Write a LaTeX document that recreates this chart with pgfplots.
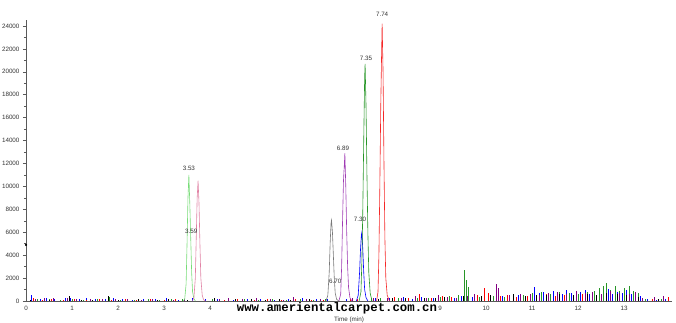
\documentclass[border=0pt]{standalone}
\usepackage{fontspec}
\setmainfont{Liberation Sans}
\newfontfamily\wmfont{Liberation Mono}
\usepackage{pgfplots}
\pgfplotsset{compat=1.18}
\definecolor{lgreen}{RGB}{120,220,120}
\definecolor{dgreen}{RGB}{40,150,40}
\definecolor{lpink}{RGB}{225,130,165}
\definecolor{lgray}{RGB}{120,120,120}
\definecolor{mpurple}{RGB}{160,60,180}
\definecolor{npurple}{RGB}{130,0,130}
\definecolor{mred}{RGB}{245,40,40}
\begin{document}
\begin{tikzpicture}
\useasboundingbox (0,0) rectangle (676bp,323bp);
\begin{axis}[
  at={(26bp,22bp)}, anchor=origin,
  scale only axis, width=646bp, height=281bp,
  xmin=0, xmax=14.04, ymin=0, ymax=24520,
  axis x line*=bottom, axis y line*=left,
  axis line style={draw=black!65, line width=0.6bp},
  xtick={0,1,2,3,4,9,10,11,12,13},
  xticklabels={0,1,2,3,4,9,10,11,12,13},
  ytick={0,2000,...,24000}, minor y tick num=1,
  tick align=outside,
  major tick length=3bp, minor tick length=2bp,
  x tick style={draw=none},
  y tick style={draw=black!65, line width=0.5bp},
  tick label style={font=\fontsize{6.3}{7}\selectfont, text=black!80},
  /pgf/number format/assume math mode=true,
  scaled y ticks=false,
  yticklabel style={/pgf/number format/1000 sep={}},
  xlabel={Time (min)},
  xlabel style={font=\fontsize{6.3}{7}\selectfont, text=black!80, yshift=1bp},
  xticklabel style={yshift=1bp},
  clip=false,
]
% noise spikes
\addplot[ycomb, no marks, blue, line width=0.5bp] coordinates {
(0.12,550)(0.3,180)(0.45,260)(0.62,150)(0.85,220)(0.97,300)(1.15,140)(1.32,260)(1.5,190)(1.72,150)(1.9,230)(2.1,170)(2.3,120)(2.55,200)(2.8,150)(3.05,240)(3.3,130)(3.62,260)(3.9,140)(4.15,180)(4.5,120)(4.8,150)(5.1,200)(5.4,130)(5.7,170)(6.0,240)(6.3,150)(6.55,200)(6.95,180)(7.6,220)(7.9,260)(8.2,340)(8.4,200)(8.6,350)(8.85,250)(9.1,360)(9.3,280)(9.45,420)(9.7,330)(9.9,300)(10.1,380)(10.35,420)(10.5,300)(10.7,500)(10.85,460)(11.0,620)(11.05,1200)(11.15,700)(11.25,820)(11.35,600)(11.45,900)(11.55,750)(11.65,650)(11.75,1000)(11.85,700)(11.95,560)(12.05,800)(12.15,950)(12.25,620)(12.35,780)(12.45,900)(12.55,700)(12.65,1050)(12.75,650)(12.85,800)(12.95,720)(13.05,950)(13.15,600)(13.25,700)(13.35,400)(13.5,150)(13.7,120)(13.9,180)
};
\addplot[ycomb, no marks, red, line width=0.5bp] coordinates {
(0.15,250)(0.35,120)(0.55,180)(0.8,100)(1.05,160)(1.3,130)(1.6,200)(1.85,110)(2.15,150)(2.4,120)(2.7,180)(3.0,100)(3.25,140)(4.3,130)(4.6,180)(4.95,110)(5.25,150)(5.55,120)(5.85,170)(6.2,130)(6.45,100)(7.05,150)(7.2,200)(8.0,350)(8.3,250)(8.55,600)(8.8,300)(9.05,450)(9.25,380)(9.8,500)(9.95,1100)(10.05,700)(10.3,400)(10.45,550)(10.65,380)(10.9,450)(11.1,500)(11.3,620)(11.5,400)(11.7,550)(11.9,480)(12.1,600)(12.3,520)(12.5,450)(12.7,700)(12.9,550)(13.1,600)(13.3,380)(13.6,150)(13.95,350)
};
\addplot[ycomb, no marks, dgreen, line width=0.5bp] coordinates {
(0.25,200)(0.5,150)(0.75,120)(1.0,180)(1.25,100)(1.55,140)(1.8,320)(2.05,130)(2.35,110)(2.65,150)(2.9,120)(3.15,160)(3.4,200)(4.05,150)(4.4,120)(4.75,160)(5.05,110)(5.35,140)(5.65,120)(5.95,150)(6.25,100)(6.5,200)(7.5,300)(7.7,250)(8.1,250)(8.5,300)(8.75,280)(9.0,350)(9.2,400)(9.4,500)(9.52,2700)(9.57,1800)(9.62,1200)(9.85,350)(10.15,400)(10.4,380)(10.6,450)(10.8,500)(11.0,700)(11.2,750)(11.4,650)(11.6,800)(11.8,700)(12.0,620)(12.2,750)(12.35,900)(12.45,1100)(12.55,1300)(12.62,1600)(12.7,1000)(12.8,1300)(12.9,900)(13.0,1100)(13.1,1350)(13.2,900)(13.3,700)(13.45,200)(13.8,150)
};
\addplot[ycomb, no marks, npurple, line width=0.5bp] coordinates {
(0.2,150)(0.4,230)(0.6,300)(0.9,220)(1.1,180)(1.4,150)(1.65,200)(1.95,180)(2.2,150)(2.5,130)(2.75,160)(3.2,120)(3.45,180)(4.2,200)(4.4,300)(4.7,140)(5.0,250)(5.3,160)(5.6,120)(5.8,380)(6.1,200)(6.4,150)(7.1,250)(7.55,220)(7.85,300)(8.15,280)(8.45,450)(8.7,300)(8.95,500)(9.15,380)(9.35,300)(9.6,450)(9.75,600)(10.22,1500)(10.27,1100)(10.5,500)(10.75,600)(10.95,650)(11.15,500)(11.35,700)(11.55,800)(11.75,650)(11.95,900)(12.15,700)(12.3,800)(12.5,650)(12.7,850)(12.9,700)(13.1,600)(13.25,800)(13.4,300)(13.65,350)(13.85,400)
};
\addplot[ycomb, no marks, black, line width=0.5bp] coordinates {
(0.1,100)(0.5,120)(0.95,400)(1.2,100)(1.45,130)(1.78,450)(2.0,120)(2.45,140)(2.85,100)(3.1,150)(3.5,120)(4.1,300)(4.55,150)(4.9,200)(5.2,130)(5.5,170)(5.75,120)(6.15,180)(7.65,200)(7.95,220)(8.25,300)(8.65,260)(8.9,300)(9.1,350)(9.5,450)(9.9,400)(10.1,500)(10.6,600)(10.85,450)(11.1,550)(11.3,500)(11.6,650)(11.9,550)(12.2,600)(12.4,500)(12.6,700)(12.85,650)(13.05,550)(13.3,350)(13.75,150)
};
% peaks
\addplot[lgreen, line width=0.6bp] coordinates {
(3.42,0)(3.45,200)(3.48,1500)(3.50,5000)(3.52,9000)(3.54,11000)(3.56,8500)(3.58,5500)(3.60,2500)(3.62,800)(3.65,200)(3.68,0)
};
\addplot[lpink, line width=0.6bp] coordinates {
(3.62,0)(3.65,300)(3.68,2000)(3.70,5500)(3.72,9000)(3.74,10500)(3.76,8500)(3.78,5000)(3.80,2000)(3.83,500)(3.86,100)(3.9,0)
};
\addplot[lgray, line width=0.6bp] coordinates {
(6.52,0)(6.56,500)(6.59,2500)(6.61,5000)(6.63,6800)(6.64,7050)(6.66,6000)(6.68,4000)(6.70,2000)(6.72,700)(6.75,150)(6.8,0)
};
\addplot[mpurple, line width=0.6bp] coordinates {
(6.80,0)(6.84,600)(6.86,3000)(6.88,7000)(6.90,10500)(6.92,12000)(6.93,12900)(6.95,10000)(6.97,6000)(6.99,3000)(7.01,1200)(7.04,300)(7.08,0)
};
\addplot[blue, line width=0.6bp] coordinates {
(7.18,0)(7.22,500)(7.25,2500)(7.27,4500)(7.29,5800)(7.30,6000)(7.32,4500)(7.34,2500)(7.36,1000)(7.39,300)(7.43,0)
};
\addplot[dgreen, line width=0.6bp] coordinates {
(7.24,0)(7.28,800)(7.30,3500)(7.32,8000)(7.34,14000)(7.36,19500)(7.37,20700)(7.39,17000)(7.41,11000)(7.43,6000)(7.45,2500)(7.48,700)(7.52,0)
};
\addplot[mred, line width=0.6bp] coordinates {
(7.62,0)(7.65,800)(7.67,4000)(7.69,10000)(7.71,17000)(7.73,22000)(7.74,24200)(7.76,20000)(7.78,12000)(7.80,5500)(7.82,2000)(7.85,500)(7.9,0)
};
\addplot[only marks, mark=*, mark size=0.9bp, black] coordinates {(0,4900)};
% peak labels
\begin{scope}[every node/.style={font=\fontsize{6.3}{7}\selectfont, text=black!80, inner sep=0.5bp}]
\node at (axis cs:3.54,11550) {3.53};
\node at (axis cs:3.59,6100) {3.59};
\node at (axis cs:6.72,1750) {6.70};
\node at (axis cs:6.89,13350) {6.89};
\node at (axis cs:7.26,7150) {7.30};
\node at (axis cs:7.39,21200) {7.35};
\node at (axis cs:7.74,25000) {7.74};
\end{scope}
\end{axis}
\node[font=\wmfont\bfseries\fontsize{12.4}{13}\selectfont, inner sep=0pt, fill=white, minimum height=9bp] at (337bp,14.5bp) {www.amerientalcarpet.com.cn};
\end{tikzpicture}
\end{document}
